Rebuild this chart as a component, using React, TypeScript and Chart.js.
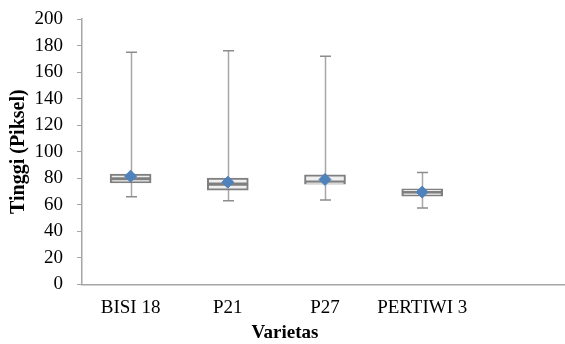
import React, { useEffect, useRef } from "react";
import { Chart, registerables } from "chart.js";

Chart.register(...registerables);

const categories = ["BISI 18", "P21", "P27", "PERTIWI 3", ""];
const minValues = [66, 63, 63.5, 57.5, null];
const q1Values = [76.5, 71, 75.5, 66.5, null];
const medianValues = [79.5, 75.5, 77, 69.5, null];
const q3Values = [83, 80, 82.5, 72, null];
const maxValues = [175, 176, 172, 84.3, null];
const meanValues = [81.5, 77, 79, 69.5, null];
const yTicks = [0, 20, 40, 60, 80, 100, 120, 140, 160, 180, 200];

const FONT = "'Liberation Serif', 'Times New Roman', serif";
const PLOT_RIGHT = 568;

const whiskerPlugin = {
  id: "whiskers",
  afterLayout(chart: any) {
    const x = chart.scales.x;
    if (!x) return;
    x.right = PLOT_RIGHT;
    x.width = x.right - x.left;
    chart.chartArea.right = PLOT_RIGHT;
    chart.chartArea.width = PLOT_RIGHT - chart.chartArea.left;
    x.configure();
  },
  beforeDatasetsDraw(chart: any) {
    const { ctx, scales } = chart;
    const x = scales.x;
    const y = scales.y;
    ctx.save();
    categories.forEach((_, i) => {
      const mn = minValues[i];
      const mx = maxValues[i];
      const q1 = q1Values[i];
      const q3 = q3Values[i];
      if (mn == null || mx == null || q1 == null || q3 == null) return;
      const cx = Math.round(x.getPixelForValue(i)) + 0.5;
      ctx.strokeStyle = "#a6a6a6";
      ctx.lineWidth = 1.5;
      ctx.beginPath();
      ctx.moveTo(cx, y.getPixelForValue(mx));
      ctx.lineTo(cx, y.getPixelForValue(q3));
      ctx.moveTo(cx, y.getPixelForValue(q1));
      ctx.lineTo(cx, y.getPixelForValue(mn));
      ctx.stroke();
      ctx.strokeStyle = "#8c8c8c";
      ctx.lineWidth = 1.5;
      ctx.beginPath();
      ctx.moveTo(cx - 5.5, y.getPixelForValue(mx));
      ctx.lineTo(cx + 5.5, y.getPixelForValue(mx));
      ctx.moveTo(cx - 5.5, y.getPixelForValue(mn));
      ctx.lineTo(cx + 5.5, y.getPixelForValue(mn));
      ctx.stroke();
    });
    ctx.restore();
  },
};

export default function App() {
  const ref = useRef<HTMLCanvasElement | null>(null);

  useEffect(() => {
    document.body.style.margin = "0";
    const canvas = ref.current;
    if (!canvas) return;
    const lower = q1Values.map((v, i) => (v == null ? null : [v, medianValues[i] as number]));
    const upper = q3Values.map((v, i) => (v == null ? null : [medianValues[i] as number, v]));
    const chart = new Chart(canvas, {
      type: "bar",
      data: {
        labels: categories,
        datasets: [
          {
            type: "line",
            label: "Mean",
            data: meanValues as any,
            showLine: false,
            pointStyle: "rectRot",
            pointRadius: 6,
            pointBackgroundColor: "#4F81BD",
            pointBorderColor: "#4F81BD",
            borderColor: "#4F81BD",
            backgroundColor: "#4F81BD",
            order: 0,
          } as any,
          {
            label: "Lower",
            data: lower as any,
            backgroundColor: "#efefef",
            borderColor: "#7f7f7f",
            borderWidth: 2,
            borderSkipped: false,
            grouped: false,
            barThickness: 41,
            order: 1,
          } as any,
          {
            label: "Upper",
            data: upper as any,
            backgroundColor: "#efefef",
            borderColor: "#7f7f7f",
            borderWidth: 2,
            borderSkipped: false,
            grouped: false,
            barThickness: 41,
            order: 1,
          } as any,
        ],
      },
      options: {
        animation: false,
        responsive: false,
        layout: { padding: { top: 19, left: 1, right: -4, bottom: 0 } },
        plugins: {
          legend: { display: false },
          tooltip: { enabled: false },
          title: {
            display: true,
            position: "bottom",
            text: "Varietas",
            color: "#000",
            font: { family: FONT, size: 19, weight: "bold", lineHeight: 1.1 },
            padding: { top: 0, bottom: 0 },
          },
        },
        scales: {
          x: {
            grid: { display: false, drawTicks: false, tickLength: 0 },
            border: { display: true, color: "#a6a6a6", width: 1.5 },
            ticks: {
              color: "#000",
              font: { family: FONT, size: 19 },
              maxRotation: 0,
              autoSkip: false,
              padding: 12,
            },
            afterFit: (s: any) => {
              s.height = s.height - 8;
              s.paddingLeft = 0;
              s.paddingRight = 0;
            },
          },
          y: {
            min: 0,
            max: 200,
            afterBuildTicks: (s: any) => {
              s.ticks = yTicks.map((v) => ({ value: v }));
            },
            afterFit: (s: any) => {
              s.width = 81;
              s.paddingTop = 0;
              s.paddingBottom = 0;
            },
            grid: {
              display: true,
              drawOnChartArea: false,
              drawTicks: true,
              tickLength: 5,
              color: "#a6a6a6",
            },
            border: { display: true, color: "#a6a6a6", width: 1.5 },
            ticks: {
              color: "#000",
              font: { family: FONT, size: 19 },
              padding: 14,
              autoSkip: false,
            },
            title: {
              display: true,
              text: "Tinggi (Piksel)",
              color: "#000",
              font: { family: FONT, size: 20, weight: "bold" },
              padding: { top: 6, bottom: 0 },
            },
          },
        },
      },
      plugins: [whiskerPlugin],
    });
    return () => chart.destroy();
  }, []);

  return (
    <div style={{ width: 565, height: 344 }}>
      <canvas ref={ref} width={565} height={344} style={{ display: "block", width: 565, height: 344 }} />
    </div>
  );
}
